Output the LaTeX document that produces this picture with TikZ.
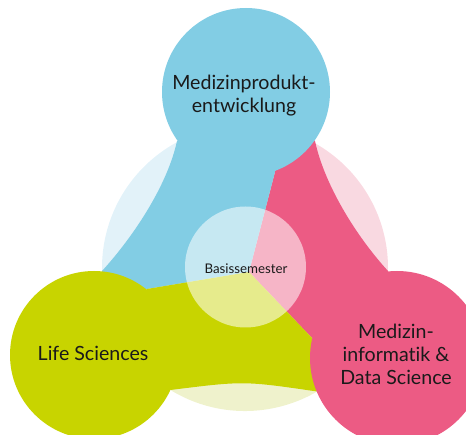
\documentclass[tikz,border=0pt]{standalone}
\usepackage{fontspec}
\setmainfont{Lato}[Ligatures=NoCommon]
\definecolor{cblue}{RGB}{130,205,228}
\definecolor{cpink}{RGB}{236,91,132}
\definecolor{cgreen}{RGB}{200,212,0}
\definecolor{pblue}{RGB}{226,242,249}
\definecolor{ppink}{RGB}{249,217,225}
\definecolor{pyellow}{RGB}{239,242,204}
\definecolor{ctext}{RGB}{26,26,26}
\begin{document}
\begin{tikzpicture}[x=1pt,y=-1pt,
  lab/.style={text=ctext,font=\fontsize{19.6}{23.5}\selectfont,align=center,inner sep=0pt,anchor=base},
  smalllab/.style={text=ctext,font=\fontsize{13.3}{15}\selectfont,inner sep=0pt,anchor=base}]
\useasboundingbox (0,0) rectangle (466,435);
\clip (0,0) rectangle (466,435);
% key points
\coordinate (O) at (245,268);
\coordinate (C) at (249,272);
\coordinate (B1) at (177,141);
\coordinate (B2) at (315,141);
\coordinate (L) at (102,271);
\coordinate (R) at (388,271);
\coordinate (G1) at (170.5,390);
\coordinate (G2) at (317,391.5);
\coordinate (TB) at (275,172);
\coordinate (TG) at (147,289);
\coordinate (TP) at (312,338);
% pale background sectors
\fill[pblue] (O) -- ++(270:143) arc[start angle=270,end angle=150,radius=143] -- cycle;
\fill[ppink] (O) -- ++(270:143) arc[start angle=270,end angle=390,radius=143] -- cycle;
\fill[pyellow] (O) -- ++(30:143) arc[start angle=30,end angle=150,radius=143] -- cycle;
% arms
\fill[cpink] (B2) .. controls (324.5,185) and (356.2,236.2) .. (R) -- (375,310) -- (TP) -- (C) -- (TB) -- (290,120) -- cycle;
\fill[cblue] (B1) .. controls (167.5,185) and (133.8,236.2) .. (L) -- (115,310) -- (TG) -- (C) -- (TB) -- (260,120) -- cycle;
\fill[cgreen] (TG) -- (C) -- (TP) -- (350,380) -- (G2) .. controls (243.7,380.8) .. (G1) -- (130,330) -- cycle;
% blobs
\fill[cblue] (246,92) circle[radius=84];
\fill[cgreen] (94,355) circle[radius=84];
\fill[cpink] (397,358) circle[radius=87];
% centre
\fill[white,fill opacity=0.55] (245.5,267) circle[radius=60.5];
% labels (base anchor = baseline of the last line)
\node[lab] (med) at (244,113) {Medizinprodukt-\\entwicklung};
\node[lab] (life) at (93,361) {Life Sciences};
\node[lab] (inf) at (396,385) {Medizin-\\informatik \&\\Data Science};
\node[smalllab] (basis) at (246,274) {Basissemester};
\end{tikzpicture}
\end{document}
